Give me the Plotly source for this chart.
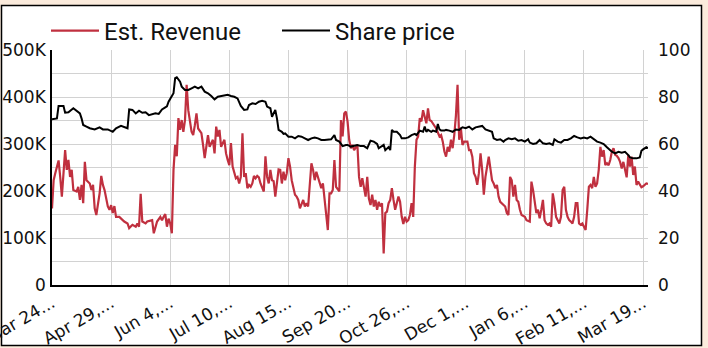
import pandas as pd
import plotly.graph_objects as go

# ---------------- data ----------------
start_date = "2018-03-24"

rev_days = [0, 1, 2, 4, 5, 6, 8, 9, 10, 11, 12, 13, 15, 16, 17, 18, 19, 20, 21, 23, 24, 25, 26, 27, 29, 30,
            31, 32, 34, 35, 36, 37, 38, 39, 41, 43, 44, 46, 47, 49, 51, 52, 53, 54, 55, 57, 58, 60, 61, 62,
            64, 66, 67, 68, 69, 70, 71, 72, 73, 74, 75, 76, 77, 78, 79, 80, 81, 82, 83, 85, 86, 87, 88, 89,
            91, 92, 93, 95, 96, 98, 99, 100, 101, 102, 103, 105, 106, 107, 108, 109, 110, 112, 113, 114, 115,
            116, 117, 118, 119, 120, 121, 122, 123, 124, 125, 126, 127, 129, 130, 131, 132, 133, 134, 135,
            136, 138, 139, 140, 141, 142, 143, 144, 145, 146, 148, 149, 150, 151, 152, 153, 154, 155, 156,
            158, 159, 160, 161, 162, 163, 164, 165, 166, 167, 168, 169, 170, 171, 172, 173, 175, 176, 177,
            178, 179, 180, 181, 182, 183, 184, 185, 186, 187, 188, 189, 190, 191, 192, 193, 194, 195, 196,
            197, 198, 199, 200, 201, 202, 203, 204, 205, 206, 207, 208, 209, 210, 211, 212, 213, 214, 215,
            216, 217, 218, 219, 220, 221, 222, 223, 224, 225, 226, 227, 228, 229, 230, 231, 233, 234, 236,
            237, 238, 239, 240, 241, 242, 243, 244, 245, 246, 247, 248, 249, 250, 251, 253, 254, 255, 256,
            257, 258, 259, 260, 261, 262, 263, 264, 266, 267, 268, 269, 270, 271, 272, 273, 274, 276, 277,
            278, 279, 280, 281, 282, 283, 284, 285, 286, 288, 289, 291, 292, 293, 294, 295, 296, 297, 298,
            299, 300, 301, 302, 303, 304, 305, 306, 307, 308, 309, 310, 311, 312, 313, 314, 315, 316, 317,
            318, 319, 320, 321, 322, 323, 324, 325, 326, 327, 328, 329, 330, 331, 332, 333, 334, 335, 336,
            337, 338, 339, 340, 341, 342, 343, 344, 345, 346, 347, 348, 349, 350, 351, 352, 353, 354, 355,
            356, 357, 358, 359, 360, 361, 362, 363]

revenue_k = [163, 223, 238, 265, 230, 188, 287, 245, 266, 230, 245, 202, 199, 209, 181, 213, 174, 262, 223, 216,
             202, 213, 163, 149, 195, 232, 213, 202, 167, 160, 170, 153, 168, 145, 145, 138, 135, 131, 121, 128,
             124, 131, 124, 194, 135, 131, 135, 137, 138, 110, 135, 145, 138, 145, 151, 124, 141, 131, 110, 245,
             298, 274, 355, 330, 351, 326, 351, 426, 372, 326, 319, 340, 365, 333, 323, 298, 270, 319, 294, 309,
             280, 337, 316, 330, 294, 309, 280, 266, 255, 302, 252, 227, 230, 216, 230, 323, 230, 238, 206, 213,
             209, 216, 232, 227, 232, 229, 216, 199, 274, 230, 216, 245, 223, 221, 188, 246, 245, 216, 241, 223,
             238, 270, 252, 223, 192, 188, 181, 163, 174, 181, 167, 174, 167, 259, 245, 223, 241, 230, 221, 206,
             216, 181, 160, 117, 195, 195, 202, 266, 209, 199, 351, 316, 365, 369, 348, 309, 291, 298, 287, 294,
             298, 230, 209, 227, 209, 188, 230, 184, 170, 192, 167, 181, 160, 177, 167, 174, 67, 153, 156, 174,
             181, 206, 181, 160, 174, 188, 177, 145, 130, 145, 135, 138, 149, 174, 145, 252, 309, 316, 355, 348,
             372, 355, 344, 376, 351, 349, 340, 333, 316, 319, 305, 284, 273, 294, 284, 309, 291, 319, 360, 426,
             309, 335, 298, 305, 305, 287, 287, 273, 238, 230, 213, 238, 280, 245, 192, 230, 273, 245, 223, 216,
             206, 213, 188, 177, 174, 167, 153, 149, 230, 223, 188, 213, 181, 177, 160, 149, 145, 138, 135, 220,
             202, 177, 153, 160, 142, 160, 181, 138, 131, 128, 131, 124, 195, 174, 145, 138, 131, 145, 202, 209,
             160, 145, 138, 135, 131, 145, 174, 174, 131, 128, 131, 124, 117, 160, 209, 213, 206, 230, 209, 216,
             245, 294, 273, 287, 255, 259, 255, 266, 284, 291, 277, 275, 270, 262, 248, 262, 245, 229, 277, 252,
             273, 234, 252, 213, 220, 213, 208, 210, 213, 216, 215]

price_days = [0, 3, 4, 7, 8, 10, 13, 15, 17, 18, 19, 21, 23, 26, 29, 31, 34, 37, 39, 42, 44, 46, 47, 49, 51, 53,
              55, 57, 59, 61, 63, 65, 67, 69, 70, 71, 73, 74, 75, 76, 78, 79, 81, 83, 85, 87, 89, 91, 93, 95,
              97, 99, 101, 103, 105, 107, 109, 111, 113, 115, 117, 119, 120, 122, 124, 126, 128, 130, 131, 133,
              134, 135, 136, 137, 138, 140, 141, 142, 144, 146, 148, 150, 152, 154, 156, 158, 160, 162, 164,
              166, 168, 170, 172, 173, 175, 177, 179, 180, 182, 184, 186, 188, 190, 192, 193, 194, 196, 198,
              199, 201, 202, 203, 205, 206, 207, 208, 209, 210, 212, 213, 215, 217, 219, 221, 222, 224, 226,
              227, 228, 229, 231, 232, 234, 235, 236, 237, 239, 240, 242, 244, 246, 248, 250, 252, 254, 256,
              258, 260, 262, 264, 266, 268, 269, 271, 273, 275, 276, 278, 280, 282, 284, 286, 288, 290, 291,
              293, 295, 297, 298, 299, 301, 303, 305, 306, 308, 310, 312, 314, 316, 318, 320, 322, 324, 326,
              328, 330, 332, 334, 336, 338, 341, 343, 345, 347, 349, 351, 352, 354, 356, 358, 359, 360, 362, 363]

share_price = [70.5, 70.9, 76.2, 76.2, 73.3, 73.5, 75.2, 74.2, 73.0, 70.9, 68.1, 67.4, 66.7, 66.2, 67.1, 66.2,
               66.2, 65.2, 66.7, 67.7, 67.1, 66.7, 74.7, 74.5, 73.0, 74.2, 73.3, 73.5, 72.3, 72.8, 73.1, 72.8,
               74.7, 75.6, 76.0, 78.0, 80.1, 81.6, 88.0, 88.4, 86.5, 84.4, 83.0, 83.0, 83.7, 84.4, 83.7, 84.4,
               82.3, 81.6, 80.4, 79.0, 80.1, 80.4, 80.9, 80.9, 80.4, 80.1, 79.4, 76.2, 74.5, 74.7, 76.6, 77.3,
               77.0, 78.0, 78.4, 78.0, 75.9, 75.2, 71.6, 73.0, 74.5, 70.9, 66.0, 65.2, 64.3, 64.5, 63.1, 63.1,
               62.4, 63.4, 63.1, 62.4, 61.7, 62.4, 62.8, 62.4, 61.7, 61.7, 62.0, 62.0, 63.8, 61.7, 61.0, 59.1,
               59.6, 59.6, 58.9, 59.1, 59.6, 59.1, 59.1, 58.2, 59.6, 61.4, 61.0, 60.0, 58.2, 59.1, 59.6, 57.4,
               58.7, 57.4, 66.0, 65.2, 65.2, 65.2, 63.8, 62.4, 62.4, 62.8, 63.8, 64.3, 63.8, 65.7, 65.2, 67.4,
               65.2, 66.0, 65.2, 65.7, 65.2, 68.5, 66.2, 65.7, 65.7, 66.0, 65.7, 65.2, 66.2, 66.0, 67.1, 66.7,
               67.4, 66.2, 67.1, 67.4, 67.7, 66.2, 65.7, 65.2, 62.4, 61.7, 62.0, 61.0, 61.7, 62.4, 62.0, 62.4,
               61.4, 61.7, 61.0, 62.0, 60.6, 60.0, 60.3, 61.7, 61.0, 60.3, 60.0, 60.3, 59.6, 62.0, 61.0, 60.6,
               61.7, 61.7, 62.4, 63.4, 62.8, 62.4, 62.8, 62.4, 63.1, 62.0, 61.0, 60.6, 60.0, 58.6, 56.7, 56.0,
               56.7, 56.3, 56.7, 55.3, 54.3, 53.9, 53.9, 54.3, 57.1, 57.7, 58.6, 58.2]

x_range_end_day = 363

tick_dates = ["2018-03-24", "2018-04-29", "2018-06-04", "2018-07-10", "2018-08-15", "2018-09-20",
              "2018-10-26", "2018-12-01", "2019-01-06", "2019-02-11", "2019-03-19"]
tick_labels = ["Mar 24...", "Apr 29,...", "Jun 4,...", "Jul 10,...", "Aug 15...", "Sep 20...",
               "Oct 26,...", "Dec 1,...", "Jan 6,...", "Feb 11,...", "Mar 19..."]

left_tickvals = [0, 50000, 100000, 150000, 200000, 250000, 300000, 350000, 400000, 450000, 500000]
left_ticktext = ["0", "", "100K", "", "200K", "", "300K", "", "400K", "", "500K"]
right_tickvals = [0, 20, 40, 60, 80, 100]
right_ticktext = ["0", "20", "40", "60", "80", "100"]

# ---------------- build ----------------
t0 = pd.Timestamp(start_date)
rev_x = [t0 + pd.Timedelta(days=d) for d in rev_days]
price_x = [t0 + pd.Timedelta(days=d) for d in price_days]
rev_y = [v * 1000 for v in revenue_k]
x_end = t0 + pd.Timedelta(days=x_range_end_day)

RED = "#c0303f"
GRID = "#d2d2d2"
TICKFONT = dict(family="DejaVu Sans", size=17, color="#111111")
XTICKFONT = dict(family="DejaVu Sans", size=17, color="#111111")

fig = go.Figure()
fig.add_trace(go.Scatter(x=rev_x, y=rev_y, mode="lines", name="Est. Revenue",
                         line=dict(color=RED, width=2.2), yaxis="y"))
fig.add_trace(go.Scatter(x=price_x, y=share_price, mode="lines", name="Share price",
                         line=dict(color="#000000", width=2), yaxis="y2"))

W, H = 708, 348
L, R, T, B = 52, 60, 50, 63
pw, ph = W - L - R, H - T - B

def px_x(p):
    return (p - L) / pw

def px_y(p):
    return (H - B - p) / ph

fig.update_layout(
    width=W, height=H,
    margin=dict(l=L, r=R, t=T, b=B, pad=0, autoexpand=False),
    paper_bgcolor="#fbebdc",
    plot_bgcolor="#ffffff",
    showlegend=True,
    legend=dict(orientation="h", x=px_x(46), xanchor="left", y=px_y(31), yanchor="middle",
                font=dict(family="Roboto", size=24, color="#111111"),
                itemwidth=48, bgcolor="rgba(0,0,0,0)", entrywidth=168, entrywidthmode="pixels"),
    xaxis=dict(type="date", range=[t0, x_end], tickmode="array", tickvals=tick_dates,
               ticktext=tick_labels, tickangle=-30, tickfont=XTICKFONT, automargin=False,
               ticklabeloverflow="allow",
               showgrid=True, gridcolor=GRID, gridwidth=1,
               showline=True, linecolor="#000000", linewidth=1.5, ticks="", zeroline=False),
    yaxis=dict(range=[0, 500000], tickmode="array", tickvals=left_tickvals, ticktext=left_ticktext,
               tickfont=TICKFONT, showgrid=True, gridcolor=GRID, gridwidth=1, automargin=False,
               ticklabeloverflow="allow",
               showline=True, linecolor="#000000", linewidth=1.5, ticks="", zeroline=False,
               ticklabelstandoff=1),
    yaxis2=dict(range=[0, 100], overlaying="y", side="right", tickmode="array",
                tickvals=right_tickvals, ticktext=right_ticktext, tickfont=TICKFONT,
                automargin=False, ticklabeloverflow="allow",
                showgrid=False, showline=False, zeroline=False, ticks="",
                ticklabelstandoff=9),
    shapes=[dict(type="rect", xref="paper", yref="paper", layer="below",
                 x0=px_x(1.5), x1=px_x(701.5), y0=px_y(345.5), y1=px_y(5.5),
                 fillcolor="#ffffff", line=dict(color="#000000", width=1.5))],
)

fig.write_html("out.html")
